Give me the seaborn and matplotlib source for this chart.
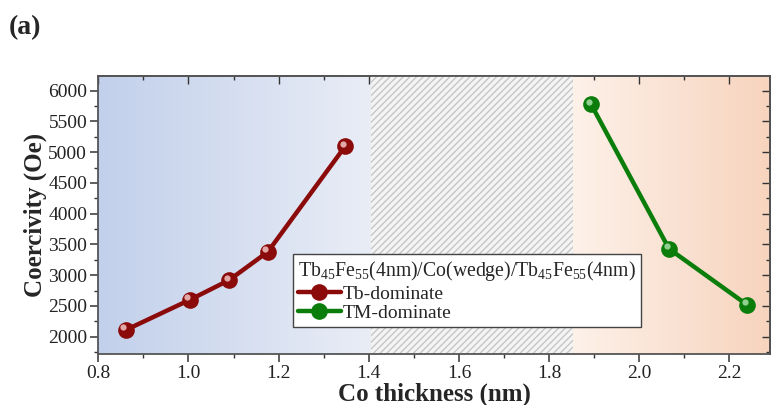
import numpy as np
import pandas as pd
import seaborn as sns
import matplotlib
matplotlib.use("Agg")
import matplotlib.pyplot as plt
from matplotlib.lines import Line2D
from matplotlib.patches import Rectangle
from matplotlib.ticker import MultipleLocator
from matplotlib.colors import LinearSegmentedColormap
import matplotlib.transforms as mtransforms

# ---- data ----
tb_thickness = [0.861, 1.003, 1.090, 1.176, 1.348]
tb_coercivity = [2110, 2600, 2920, 3380, 5100]
tm_thickness = [1.893, 2.066, 2.239]
tm_coercivity = [5780, 3430, 2520]
series_names = ["Tb-dominate", "TM-dominate"]
series_colors = ["#8b0a0a", "#0a7d0a"]
legend_title = r"Tb$_{45}$Fe$_{55}$(4nm)/Co(wedge)/Tb$_{45}$Fe$_{55}$(4nm)"
x_ticks = [0.8, 1.0, 1.2, 1.4, 1.6, 1.8, 2.0, 2.2]
y_ticks = [2000, 2500, 3000, 3500, 4000, 4500, 5000, 5500, 6000]
region_bounds = [0.8, 1.405, 1.854, 2.29]

df = pd.DataFrame({
    "thickness": tb_thickness + tm_thickness,
    "coercivity": tb_coercivity + tm_coercivity,
    "phase": [series_names[0]] * len(tb_thickness) + [series_names[1]] * len(tm_thickness),
})

sns.set_theme(style="white")
plt.rcParams["font.family"] = ["Liberation Serif", "DejaVu Serif"]
plt.rcParams["mathtext.fontset"] = "custom"
plt.rcParams["mathtext.rm"] = "Liberation Serif"
plt.rcParams["mathtext.it"] = "Liberation Serif:italic"
plt.rcParams["mathtext.bf"] = "Liberation Serif:bold"
plt.rcParams["hatch.linewidth"] = 1.0

fig = plt.figure(figsize=(7.71, 4.05), dpi=100)
ax = fig.add_axes([0.1275, 0.126, 0.8712, 0.6865])

ylo, yhi = 1720, 6240

# background regions
blue_cmap = LinearSegmentedColormap.from_list("b", ["#c2d0eb", "#e9edf6"])
orange_cmap = LinearSegmentedColormap.from_list("o", ["#fdf1e9", "#f7d4be"])
grad = np.linspace(0, 1, 256).reshape(1, -1)
ax.imshow(grad, cmap=blue_cmap, aspect="auto",
          extent=[region_bounds[0], region_bounds[1], ylo, yhi], zorder=0)
ax.imshow(grad, cmap=orange_cmap, aspect="auto",
          extent=[region_bounds[2], region_bounds[3], ylo, yhi], zorder=0)
ax.add_patch(Rectangle((region_bounds[1], ylo), region_bounds[2] - region_bounds[1], yhi - ylo,
                       facecolor="#f4f4f4", edgecolor="#c6c6c6", hatch="/////",
                       linewidth=0, zorder=0.5))

sns.lineplot(data=df, x="thickness", y="coercivity", hue="phase",
             palette=dict(zip(series_names, series_colors)),
             marker="o", markersize=12, markeredgewidth=0, linewidth=3.2,
             legend=False, ax=ax, zorder=3, sort=False)

# sphere highlights
hl = mtransforms.offset_copy(ax.transData, fig=fig, x=-1.8, y=1.8, units="points")
ax.plot(tb_thickness, tb_coercivity, "o", ms=4.5, color="#f2c4c4", alpha=0.85,
        mec="none", transform=hl, zorder=4)
ax.plot(tm_thickness, tm_coercivity, "o", ms=4.5, color="#a8e0a8", alpha=0.85,
        mec="none", transform=hl, zorder=4)

ax.set_xlim(region_bounds[0], region_bounds[-1])
ax.set_ylim(ylo, yhi)

ax.set_xlabel("Co thickness (nm)", fontsize=18, fontweight="bold", labelpad=0)
ax.set_ylabel("Coercivity (Oe)", fontsize=18, fontweight="bold", labelpad=1)

ax.set_xticks(x_ticks)
ax.set_yticks(y_ticks)
ax.set_xticklabels([f"{v:.1f}" for v in x_ticks])
ax.set_yticklabels([str(v) for v in y_ticks])
ax.xaxis.set_minor_locator(MultipleLocator(0.1))
ax.yaxis.set_minor_locator(MultipleLocator(250))
ax.tick_params(which="major", direction="out", length=6, width=1.1, color="#333333",
               labelsize=14, pad=2, labelcolor="#222222")
ax.tick_params(which="minor", direction="out", length=3, width=1.0, color="#333333")
ax.tick_params(axis="both", which="both", bottom=True, left=True)

for side in ["top", "right", "bottom", "left"]:
    ax.spines[side].set_visible(True)
    ax.spines[side].set_color("#555555")
    ax.spines[side].set_linewidth(1.3)

secx = ax.secondary_xaxis("top")
secx.set_xticks(x_ticks)
secx.xaxis.set_minor_locator(MultipleLocator(0.1))
secx.tick_params(which="major", direction="in", length=6, width=1.0, color="#333333", labeltop=False)
secx.tick_params(which="minor", direction="in", length=3, width=1.0, color="#333333")
secx.spines["top"].set_color("#555555")
secx.spines["top"].set_linewidth(1.3)
secy = ax.secondary_yaxis("right")
secy.set_yticks(y_ticks)
secy.yaxis.set_minor_locator(MultipleLocator(250))
secy.tick_params(which="major", direction="in", length=6, width=1.0, color="#333333", labelright=False)
secy.tick_params(which="minor", direction="in", length=3, width=1.0, color="#333333")

handles = [Line2D([0], [0], color=c, lw=3.2, marker="o", ms=12, mec="none") for c in series_colors]
leg = ax.legend(handles, series_names, title=legend_title, loc="lower left",
                bbox_to_anchor=(0.29, 0.097), borderaxespad=0, fontsize=14,
                title_fontsize=14.2, frameon=True, fancybox=False, handlelength=2.2,
                handletextpad=0.1, borderpad=0.25, labelspacing=0.1, alignment="left")
leg.get_frame().set_edgecolor("#444444")
leg.get_frame().set_facecolor("white")
leg.get_frame().set_alpha(1)
leg.get_frame().set_linewidth(1.0)
leg.set_zorder(6)

fig.text(0.011, 0.933, "(a)", fontsize=20, fontweight="bold", ha="left", va="center")

fig.savefig("out.png", dpi=100)
